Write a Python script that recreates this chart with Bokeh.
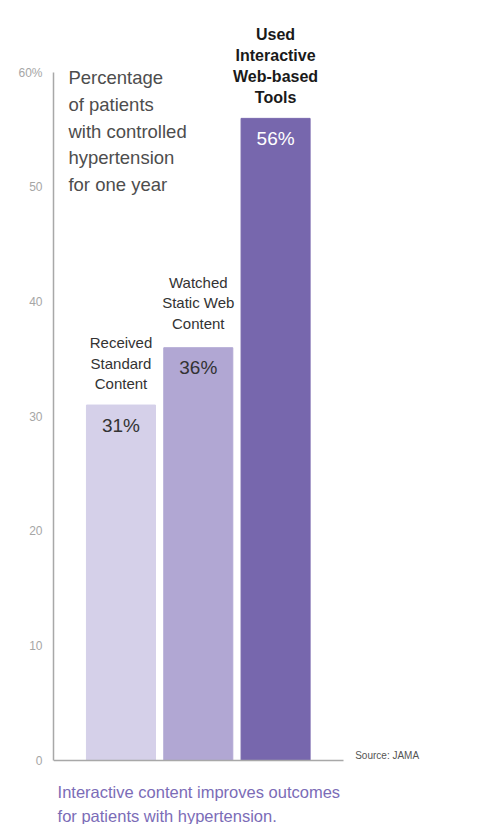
from bokeh.plotting import figure
from bokeh.models import LinearAxis, FixedTicker, Range1d, ColumnDataSource
from bokeh.core.properties import value
from bokeh.embed import file_html
from bokeh.resources import INLINE

# ---- data ----
categories = ["Received\nStandard\nContent", "Watched\nStatic Web\nContent",
              "Used\nInteractive\nWeb-based\nTools"]
positions = [1, 2, 3]
values = [31, 36, 56]
value_labels = ["31%", "36%", "56%"]
bar_colors = ["#d5d0e9", "#b1a7d3", "#7767ad"]
value_label_colors = ["#333333", "#333333", "#ffffff"]
y_ticks = [0, 10, 20, 30, 40, 50, 60]
y_tick_labels = ["0", "10", "20", "30", "40", "50", "60%"]
title_text = "Percentage\nof patients\nwith controlled\nhypertension\nfor one year"
caption_text = "Interactive content improves outcomes\nfor patients with hypertension."
source_text = "Source: JAMA"

FONT = "Liberation Sans"

# ---- scales ----
x_start, x_end = 0.127, 5.431
y_start, y_end = -5.58, 66.28
baseline_end = 3.88

p = figure(width=463, height=824, x_range=Range1d(x_start, x_end),
           y_range=Range1d(y_start, y_end), x_axis_type=None, y_axis_type=None,
           output_backend="svg", toolbar_location=None,
           min_border_left=53, min_border_right=0, min_border_top=0,
           min_border_bottom=0, outline_line_color=None)

yaxis = LinearAxis(ticker=FixedTicker(ticks=y_ticks), bounds=(0, 60),
                   major_label_overrides={t: l for t, l in zip(y_ticks, y_tick_labels)},
                   axis_line_color="#a8a8a8", axis_line_width=1.5,
                   major_tick_line_color=None, minor_tick_line_color=None,
                   major_label_text_color="#a6a6a6",
                   major_label_text_font=FONT, major_label_text_font_size="12px",
                   major_label_standoff=5)
p.add_layout(yaxis, "left")

xaxis = LinearAxis(fixed_location=0, bounds=(x_start, baseline_end),
                   ticker=FixedTicker(ticks=[]), major_label_text_font_size="0px",
                   axis_line_color="#a8a8a8", axis_line_width=1.5,
                   major_tick_line_color=None, minor_tick_line_color=None,
                   major_label_standoff=0)
p.add_layout(xaxis, "below")

src = ColumnDataSource(dict(x=positions, top=values, color=bar_colors,
                            cat=categories, vlab=value_labels,
                            vcol=value_label_colors))

p.vbar(x="x", top="top", bottom=0, width=0.893, color="color", source=src)

# value labels inside bars
p.text(x="x", y="top", text="vlab", text_color="vcol", source=src,
       text_align="center", text_baseline="middle", y_offset=20,
       text_font=value(FONT), text_font_size="19px")

# category labels above bars
src_a = ColumnDataSource(dict(x=positions[:2], top=values[:2], cat=categories[:2],
                              off=[-13, -16]))
src_b = ColumnDataSource(dict(x=positions[2:], top=values[2:], cat=categories[2:]))
p.text(x="x", y="top", text="cat", source=src_a, text_align="center",
       text_baseline="bottom", y_offset="off", text_color="#333333",
       text_font=value(FONT), text_font_size="15px", text_line_height=1.2)
p.text(x="x", y="top", text="cat", source=src_b, text_align="center",
       text_baseline="bottom", y_offset=-12, text_color="#1a1a1a",
       text_font=value(FONT), text_font_size="16px", text_font_style="bold",
       text_line_height=1.25)

# title block
p.text(x=[0.32], y=[60.44], text=[title_text], text_align="left", text_baseline="top",
       text_color="#4d4d4d", text_font=value(FONT), text_font_size="18.5px",
       text_line_height=1.27)

# source note
p.text(x=[4.03], y=[0.4], text=[source_text], text_align="left",
       text_baseline="middle", text_color="#555555", text_font=value(FONT),
       text_font_size="10px")

# caption
p.text(x=[0.18], y=[-2.0], text=[caption_text], text_align="left",
       text_baseline="top", text_color="#7b6cb7", text_font=value(FONT),
       text_font_size="16.5px", text_line_height=1.3)

open("out.html", "w").write(file_html(p, INLINE))
